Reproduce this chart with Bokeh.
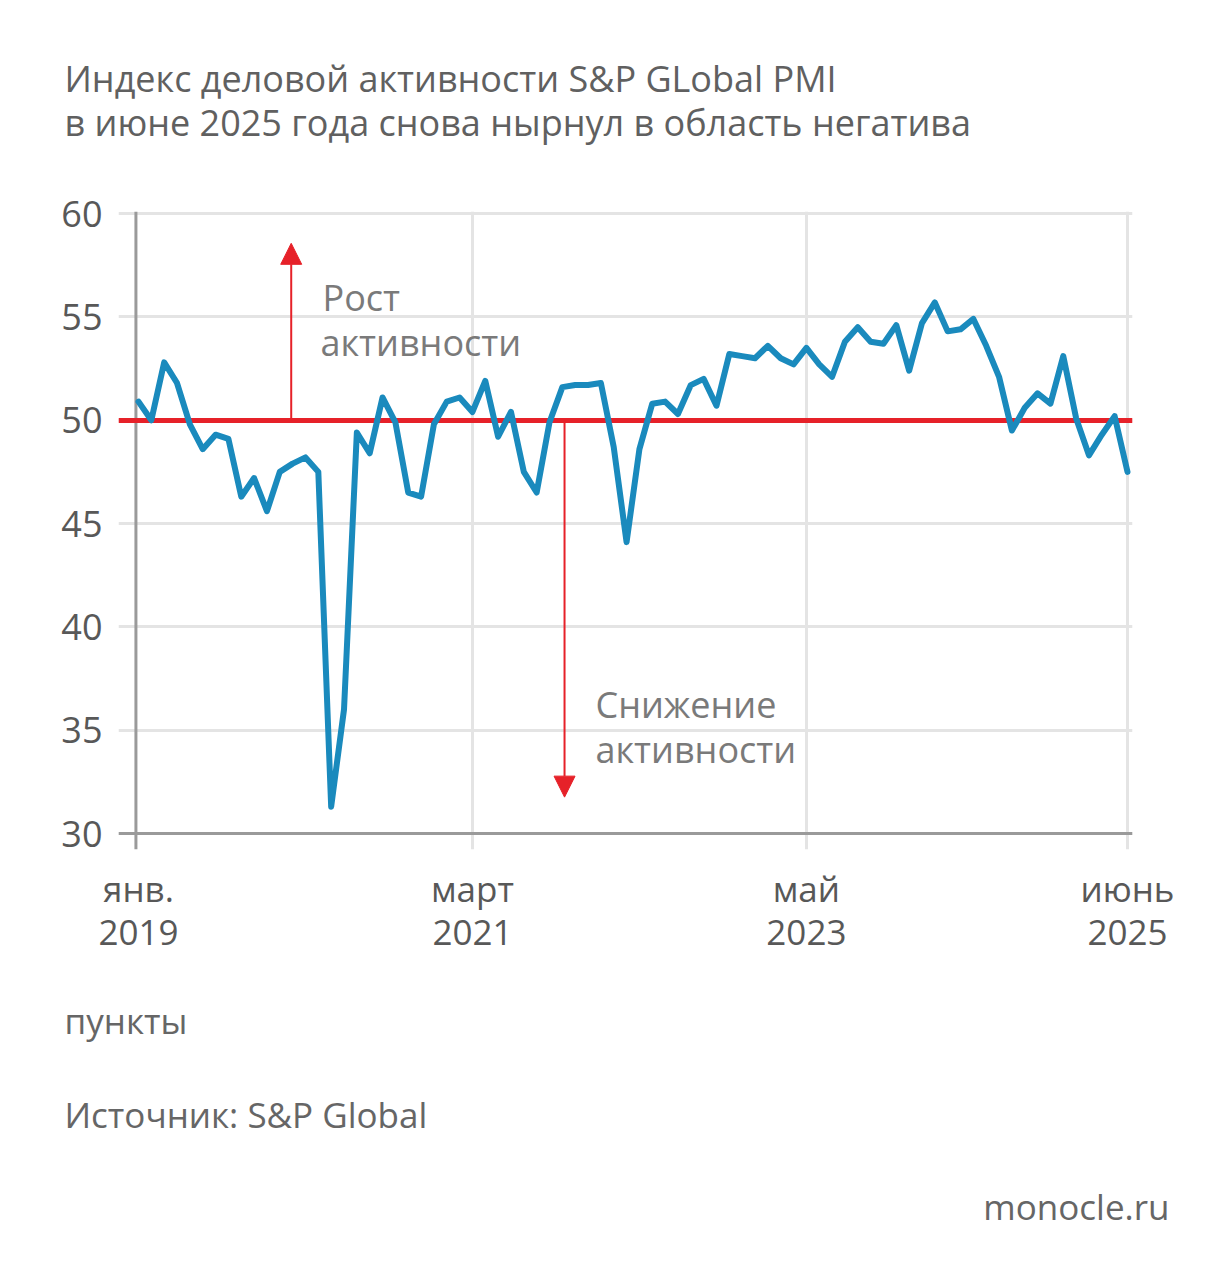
from bokeh.plotting import figure
from bokeh.layouts import column
from bokeh.models import (Range1d, FixedTicker, Span, Label, Arrow, NormalHead)
from bokeh.embed import file_html
from bokeh.resources import INLINE

# ---- data ----
pmi = [50.9, 50.0, 52.8, 51.8, 49.8, 48.6, 49.3, 49.1, 46.3, 47.2,
       45.6, 47.5, 47.9, 48.2, 47.5, 31.3, 36.0, 49.4, 48.4, 51.1,
       49.9, 46.5, 46.3, 49.8, 50.9, 51.1, 50.4, 51.9, 49.2, 50.4,
       47.5, 46.5, 49.9, 51.6, 51.7, 51.7, 51.8, 48.7, 44.1, 48.6,
       50.8, 50.9, 50.3, 51.7, 52.0, 50.7, 53.2, 53.1, 53.0, 53.6,
       53.0, 52.7, 53.5, 52.7, 52.1, 53.8, 54.5, 53.8, 53.7, 54.6,
       52.4, 54.7, 55.7, 54.3, 54.4, 54.9, 53.6, 52.1, 49.5, 50.6,
       51.3, 50.8, 53.1, 50.1, 48.3, 49.3, 50.2, 47.5]
month_idx = list(range(len(pmi)))  # Jan 2019 .. Jun 2025
x_tick_pos = [0, 26, 52, 77]
x_tick_labels = ["янв.\n2019", "март\n2021", "май\n2023", "июнь\n2025"]
y_ticks = [30, 35, 40, 45, 50, 55, 60]
threshold = 50

FONT = "Open Sans"
W = 1232
TOP_H, MAIN_H, BOT_H = 180, 810, 290
# main frame in page pixels
FL, FR, FT, FB = 118, 1132, 211, 849
SHIFT = 13  # baseline correction


def blank_fig(h):
    f = figure(width=W, height=h, output_backend="svg", toolbar_location=None,
               x_range=Range1d(0, W), y_range=Range1d(0, h),
               x_axis_location=None, y_axis_location=None,
               min_border=0)
    f.grid.visible = False
    f.outline_line_color = None
    return f


top = blank_fig(TOP_H)
bot = blank_fig(BOT_H)


def lab(fig, text, x, y, size, color, align="left"):
    fig.add_layout(Label(x=x, y=y, x_units="screen", y_units="screen",
                         text=text, text_font=FONT, text_font_size=size,
                         text_color=color, text_align=align,
                         text_baseline="alphabetic"))


def lab_top(text, X, Y, size="36px", color="#606060"):
    lab(top, text, X, TOP_H - Y + SHIFT, size, color)


def lab_bot(text, X, Y, size="35px", color="#666666", align="left"):
    lab(bot, text, X, (TOP_H + MAIN_H + BOT_H) - Y + SHIFT, size, color, align)


p = figure(width=W, height=MAIN_H, output_backend="svg", toolbar_location=None,
           x_range=Range1d(-1.557, 77.39), y_range=Range1d(29.226, 60.1),
           min_border_left=FL, min_border_right=W - FR,
           min_border_top=FT - TOP_H, min_border_bottom=TOP_H + MAIN_H - FB)
p.outline_line_color = None

# axes
p.yaxis.ticker = FixedTicker(ticks=y_ticks)
p.yaxis.axis_line_color = None
p.yaxis.major_tick_line_color = None
p.yaxis.minor_tick_line_color = None
p.yaxis.major_label_standoff = 10
p.yaxis.major_label_text_font = FONT
p.yaxis.major_label_text_font_size = "36px"
p.yaxis.major_label_text_color = "#585858"

p.xaxis.ticker = FixedTicker(ticks=x_tick_pos)
p.xaxis.major_label_overrides = {k: v for k, v in zip(x_tick_pos, x_tick_labels)}
p.xaxis.axis_line_color = None
p.xaxis.major_tick_line_color = None
p.xaxis.minor_tick_line_color = None
p.xaxis.major_label_standoff = 9
p.xaxis.major_label_text_font = FONT
p.xaxis.major_label_text_font_size = "35px"
p.xaxis.major_label_text_line_height = 0.92
p.xaxis.major_label_text_color = "#585858"

# grids
p.ygrid.ticker = FixedTicker(ticks=y_ticks)
p.ygrid.grid_line_color = "#e4e4e4"
p.ygrid.grid_line_width = 3
p.xgrid.ticker = FixedTicker(ticks=x_tick_pos[1:])
p.xgrid.grid_line_color = "#e4e4e4"
p.xgrid.grid_line_width = 3

# axis lines (dark)
p.add_layout(Span(location=-0.2, dimension="height", line_color="#9a9a9a",
                  line_width=3, level="underlay"))
p.add_layout(Span(location=30, dimension="width", line_color="#9a9a9a",
                  line_width=3, level="underlay"))

# threshold red line
red = "#e62129"
p.hspan(y=[threshold], line_color=red, line_width=5)

# arrows
p.add_layout(Arrow(end=NormalHead(size=21, fill_color=red, line_color=red, line_width=1),
                   x_start=11.89, y_start=threshold, x_end=11.89, y_end=58.56,
                   line_color=red, line_width=2))
p.add_layout(Arrow(end=NormalHead(size=21, fill_color=red, line_color=red, line_width=1),
                   x_start=33.17, y_start=threshold, x_end=33.17, y_end=31.76,
                   line_color=red, line_width=2))

# main series
p.line(month_idx, pmi, line_color="#1a8abd", line_width=6,
       line_join="round", line_cap="round")


def lab_main(text, X, Y, size="36px", color="#7a7a7a"):
    lab(p, text, X - FL, FB - Y + SHIFT, size, color)


lab_main("Рост", 322, 310)
lab_main("активности", 320, 355)
lab_main("Снижение", 595, 717)
lab_main("активности", 595, 762)

lab_top("Индекс деловой активности S&P GLobal PMI", 64, 91)
lab_top("в июне 2025 года снова нырнул в область негатива", 64, 135)

lab_bot("пункты", 64, 1033)
lab_bot("Источник: S&P Global", 64, 1127)
lab_bot("monocle.ru", 1169, 1219, align="right")

layout = column(column(top), p, column(bot), spacing=0)
open("out.html", "w").write(file_html(layout, INLINE))
